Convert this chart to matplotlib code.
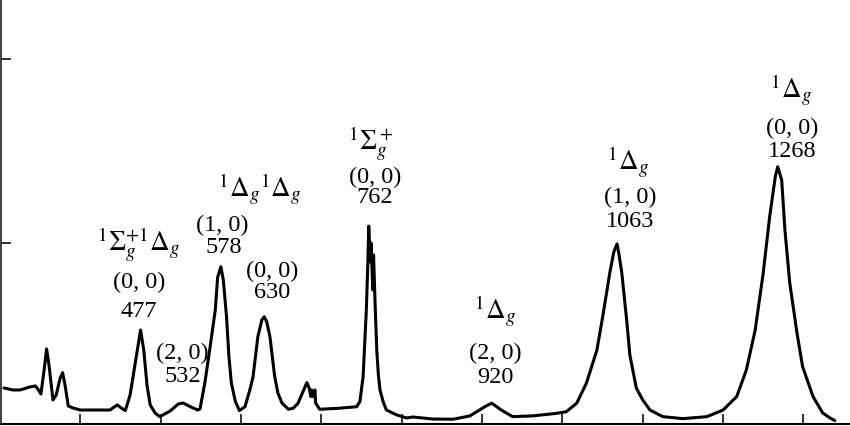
import matplotlib
matplotlib.use("Agg")
import matplotlib.pyplot as plt

plt.rcParams['font.family'] = ['Liberation Serif', 'DejaVu Serif']
plt.rcParams['mathtext.fontset'] = 'stix'

# emission spectrum: wavelength (nm) vs intensity (arb. units)
wavelength = [
    305, 316, 325, 337, 344, 347, 351, 355, 358, 361, 366, 370, 375, 378, 381,
    385, 391, 400, 437, 446, 451, 456, 462, 468, 475, 479, 483, 487, 493, 499,
    512, 522, 528, 537, 546, 549, 555, 561, 568, 571, 575, 578, 582, 585, 588,
    593, 598, 605, 611, 615, 621, 626, 629, 632, 636, 642, 646, 651, 659, 665,
    671, 678, 682, 685, 687, 688, 690, 692, 693, 698, 723, 744, 748, 752, 756,
    758, 759, 761, 762, 764, 765, 767, 769, 771, 773, 777, 781, 794, 806, 814,
    839, 864, 885, 897, 905, 912, 917, 924, 938, 963, 993, 1005, 1018, 1030, 1043,
    1051, 1059, 1064, 1068, 1070, 1074, 1080, 1084, 1092, 1100, 1109, 1125, 1150,
    1180, 1200, 1217, 1229, 1240, 1243, 1250, 1258, 1265, 1268, 1273, 1277, 1283,
    1292, 1299, 1312, 1324, 1333, 1339,
]
intensity = [
    0.212, 0.201, 0.201, 0.217, 0.223, 0.207, 0.179, 0.310, 0.424, 0.337, 0.147,
    0.174, 0.266, 0.295, 0.228, 0.114, 0.103, 0.092, 0.092, 0.120, 0.103, 0.089,
    0.174, 0.337, 0.527, 0.418, 0.228, 0.120, 0.076, 0.056, 0.087, 0.125, 0.130,
    0.110, 0.092, 0.098, 0.239, 0.418, 0.636, 0.815, 0.871, 0.799, 0.599, 0.382,
    0.239, 0.138, 0.089, 0.110, 0.201, 0.273, 0.491, 0.582, 0.599, 0.572, 0.491,
    0.273, 0.183, 0.130, 0.096, 0.102, 0.129, 0.201, 0.241, 0.210, 0.165, 0.201,
    0.165, 0.201, 0.129, 0.096, 0.102, 0.110, 0.138, 0.273, 0.636, 0.908, 1.092,
    0.897, 1.000, 0.745, 0.935, 0.658, 0.418, 0.283, 0.201, 0.136, 0.092, 0.065,
    0.049, 0.054, 0.043, 0.042, 0.060, 0.092, 0.114, 0.129, 0.114, 0.092, 0.056,
    0.060, 0.074, 0.083, 0.130, 0.239, 0.418, 0.620, 0.837, 0.951, 0.995, 0.951,
    0.837, 0.582, 0.391, 0.212, 0.147, 0.092, 0.056, 0.045, 0.056, 0.092, 0.165,
    0.310, 0.527, 0.620, 0.837, 1.143, 1.360, 1.415, 1.342, 1.071, 0.783, 0.511,
    0.328, 0.165, 0.076, 0.049, 0.035,
]

x_ticks = [400, 500, 600, 700, 800, 900, 1000, 1100, 1200, 1300]
y_ticks = [1, 2]

# peak annotations: (x, baseline y, text)
labels = [
    (473, 0.957, r'$^1\Sigma_g^{+1}\Delta_g$'),
    (473, 0.755, '(0, 0)'),
    (473, 0.598, '477'),
    (527, 0.370, '(2, 0)'),
    (527, 0.245, '532'),
    (624, 1.248, r'$^1\Delta_g{}^1\Delta_g$'),
    (577, 1.067, '(1, 0)'),
    (578, 0.944, '578'),
    (639, 0.814, '(0, 0)'),
    (639, 0.699, '630'),
    (761, 1.505, r'$^1\Sigma_g^+$'),
    (767, 1.324, '(0, 0)'),
    (767, 1.216, '762'),
    (916, 0.582, r'$^1\Delta_g$'),
    (917, 0.368, '(2, 0)'),
    (917, 0.241, '920'),
    (1082, 1.397, r'$^1\Delta_g$'),
    (1084, 1.216, '(1, 0)'),
    (1084, 1.089, '1063'),
    (1285, 1.786, r'$^1\Delta_g$'),
    (1286, 1.592, '(0, 0)'),
    (1286, 1.466, '1268'),
]

fig = plt.figure(figsize=(8.5, 4.26), dpi=100)
ax = fig.add_axes([1 / 850, 2 / 426, 849 / 850, 424 / 426])

ax.plot(wavelength, intensity, color='black', linewidth=2.2,
        solid_joinstyle='round', solid_capstyle='round')

for x, y, s in labels:
    size = 19.5 if s.startswith('$') else 17.5
    ax.text(x, y, s, ha='center', va='baseline', fontsize=size, color='black')

ax.set_xlim(301.3, 1358)
ax.set_ylim(0.016, 2.321)
ax.set_xticks(x_ticks)
ax.set_yticks(y_ticks)
ax.set_xticklabels([])
ax.set_yticklabels([])
ax.tick_params(direction='in', length=7, width=1.3, colors='#222222')

ax.spines['top'].set_visible(False)
ax.spines['right'].set_visible(False)
ax.spines['left'].set_color('#444444')
ax.spines['left'].set_linewidth(1.5)
ax.spines['bottom'].set_linewidth(1.5)

fig.savefig('out.png', dpi=100)
